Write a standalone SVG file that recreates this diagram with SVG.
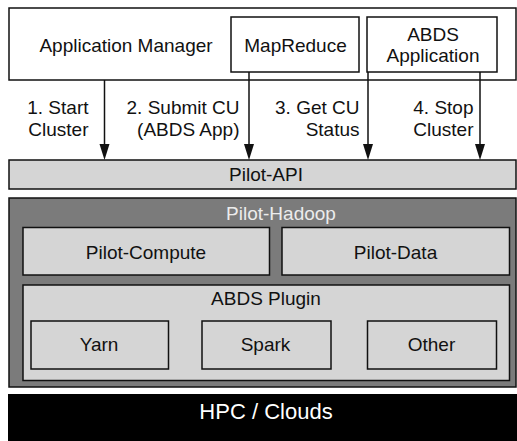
<svg xmlns="http://www.w3.org/2000/svg" width="517" height="441" viewBox="0 0 517 441">
<defs>
<style>
text{font-family:"Liberation Sans",Arial,sans-serif;font-size:19px;fill:#111}
.box{fill:#fff;stroke:#111;stroke-width:1.5}
.lg{fill:#d5d5d5;stroke:#111;stroke-width:1.5}
.dg{fill:#7b7b7b;stroke:#111;stroke-width:1.5}
.c{text-anchor:middle}
.r{text-anchor:end}
.conn{stroke:#111;stroke-width:1.5;fill:none}
.head{fill:#111}
</style>
</defs>
<rect x="0" y="0" width="517" height="441" fill="#fff"/>
<g id="app-manager">
<rect class="box" x="9" y="8" width="507" height="72"/>
<text class="c" x="126" y="52">Application Manager</text>
</g>
<g id="mapreduce">
<rect class="box" x="231" y="17" width="128" height="55"/>
<text class="c" x="295.5" y="52">MapReduce</text>
</g>
<g id="abds-app">
<rect class="box" x="367" y="17" width="130" height="55"/>
<text class="c" x="433" y="41">ABDS</text>
<text class="c" x="433" y="61.5">Application</text>
</g>
<g id="connectors">
<line class="conn" x1="104.5" y1="80" x2="104.5" y2="144"/>
<path class="head" d="M99.5,144 L109.5,144 L104.5,160 Z"/>
<line class="conn" x1="249" y1="72" x2="249" y2="144"/>
<path class="head" d="M244,144 L254,144 L249,160 Z"/>
<line class="conn" x1="368" y1="72" x2="368" y2="144"/>
<path class="head" d="M363,144 L373,144 L368,160 Z"/>
<line class="conn" x1="480" y1="72" x2="480" y2="144"/>
<path class="head" d="M475,144 L485,144 L480,160 Z"/>
<text class="r" x="88.5" y="114">1. Start</text>
<text class="r" x="88.5" y="136">Cluster</text>
<text class="r" x="239.5" y="114">2. Submit CU</text>
<text class="r" x="239.5" y="136">(ABDS App)</text>
<text class="r" x="359.5" y="114">3. Get CU</text>
<text class="r" x="359.5" y="136">Status</text>
<text class="r" x="473.5" y="114">4. Stop</text>
<text class="r" x="473.5" y="136">Cluster</text>
</g>
<g id="pilot-api">
<rect class="lg" x="9" y="160" width="507" height="29"/>
<text class="c" x="266" y="181">Pilot-API</text>
</g>
<g id="pilot-hadoop">
<rect class="dg" x="9" y="198" width="507" height="189"/>
<text class="c" x="281" y="219.5" style="fill:#ececec">Pilot-Hadoop</text>
</g>
<g id="pilot-compute">
<rect class="lg" x="23" y="227.5" width="246.5" height="47.5"/>
<text class="c" x="146" y="258.5">Pilot-Compute</text>
</g>
<g id="pilot-data">
<rect class="lg" x="282" y="227.5" width="227.5" height="47.5"/>
<text class="c" x="395.5" y="258.5">Pilot-Data</text>
</g>
<g id="abds-plugin">
<rect class="lg" x="23" y="285" width="486.5" height="95.5"/>
<text class="c" x="266" y="305">ABDS Plugin</text>
</g>
<g id="yarn">
<rect class="lg" x="31" y="321" width="137.5" height="48"/>
<text class="c" x="99" y="350.5">Yarn</text>
</g>
<g id="spark">
<rect class="lg" x="202" y="321" width="129" height="48"/>
<text class="c" x="265.5" y="350.5">Spark</text>
</g>
<g id="other">
<rect class="lg" x="367.5" y="321" width="129" height="48"/>
<text class="c" x="431.5" y="350.5">Other</text>
</g>
<g id="hpc-clouds">
<rect x="8" y="394" width="509" height="47" fill="#000"/>
<text class="c" x="266" y="419" style="fill:#fff;font-size:22px">HPC / Clouds</text>
</g>
</svg>
